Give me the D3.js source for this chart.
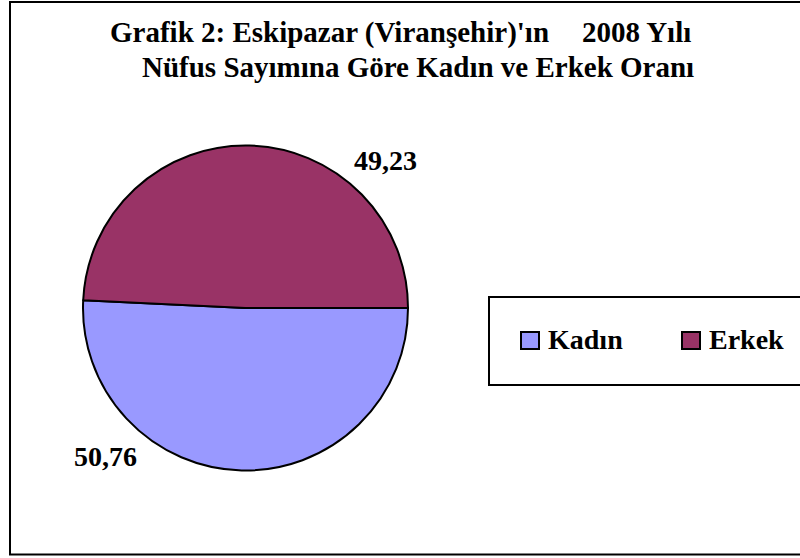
<!DOCTYPE html>
<html>
<head>
<meta charset="utf-8">
<script src="https://cdn.jsdelivr.net/npm/d3@7"></script>
<style>
  body { margin: 0; background: #fff; }
</style>
</head>
<body>
<svg id="chart" width="800" height="558"></svg>
<script>
// chart data
var categories = ["Kadın", "Erkek"];
var values = [50.76, 49.23];
var valueLabels = ["50,76", "49,23"];
var colors = ["#9999FF", "#993366"];
var titleLine1a = "Grafik 2: Eskipazar (Viranşehir)'ın";
var titleLine1b = "2008 Yılı";
var titleLine2 = "Nüfus Sayımına Göre Kadın ve Erkek Oranı";

var serif = "'Liberation Serif', 'Times New Roman', Times, 'DejaVu Serif', serif";

var svg = d3.select("#chart")
  .attr("font-family", serif)
  .attr("font-weight", "bold");

// outer chart frame (right side runs off the picture)
svg.append("rect")
  .attr("x", 10).attr("y", 2)
  .attr("width", 810).attr("height", 552.5)
  .attr("fill", "#fff")
  .attr("stroke", "#000")
  .attr("stroke-width", 2);

// title
var title = svg.append("text").attr("font-size", 29);
title.append("tspan").attr("x", 110).attr("y", 42).text(titleLine1a);
title.append("tspan").attr("x", 582).attr("y", 42).text(titleLine1b);
title.append("tspan").attr("x", 142).attr("y", 77).text(titleLine2);

// pie
var cx = 245.5, cy = 308, radius = 162.5;
var pie = d3.pie()
  .sort(null)
  .startAngle(Math.PI / 2)
  .endAngle(Math.PI / 2 + Math.PI * 2);

var arc = d3.arc().innerRadius(0).outerRadius(radius);

var arcs = pie(values);

var g = svg.append("g").attr("transform", "translate(" + cx + "," + cy + ")");

g.selectAll("path")
  .data(arcs)
  .enter()
  .append("path")
  .attr("d", arc)
  .attr("fill", function (d, i) { return colors[i]; })
  .attr("stroke", "#000")
  .attr("stroke-width", 2)
  .attr("stroke-linejoin", "round");

// data labels (outside, shifted clockwise from mid angle like Excel's best fit)
var labelArc = d3.arc().innerRadius(204).outerRadius(204);
var shift = 42 * Math.PI / 180;
g.selectAll("text.lbl")
  .data(arcs)
  .enter()
  .append("text")
  .attr("class", "lbl")
  .attr("font-size", 28)
  .attr("text-anchor", "middle")
  .attr("dy", "0.35em")
  .attr("transform", function (d) {
    var mid = (d.startAngle + d.endAngle) / 2 + shift;
    var p = labelArc.centroid({ startAngle: mid, endAngle: mid });
    return "translate(" + p[0] + "," + p[1] + ")";
  })
  .text(function (d, i) { return valueLabels[i]; });

// legend
var legend = svg.append("g");
legend.append("rect")
  .attr("x", 489).attr("y", 297)
  .attr("width", 330).attr("height", 88)
  .attr("fill", "#fff")
  .attr("stroke", "#000")
  .attr("stroke-width", 2);

var legendX = [521, 682];
var items = legend.selectAll("g.item")
  .data(categories)
  .enter()
  .append("g")
  .attr("class", "item")
  .attr("transform", function (d, i) { return "translate(" + legendX[i] + ",0)"; });

items.append("rect")
  .attr("x", 0).attr("y", 332)
  .attr("width", 18).attr("height", 17)
  .attr("fill", function (d, i) { return colors[i]; })
  .attr("stroke", "#000")
  .attr("stroke-width", 2);

items.append("text")
  .attr("x", 27).attr("y", 349)
  .attr("font-size", 28)
  .text(function (d) { return d; });
</script>
</body>
</html>
